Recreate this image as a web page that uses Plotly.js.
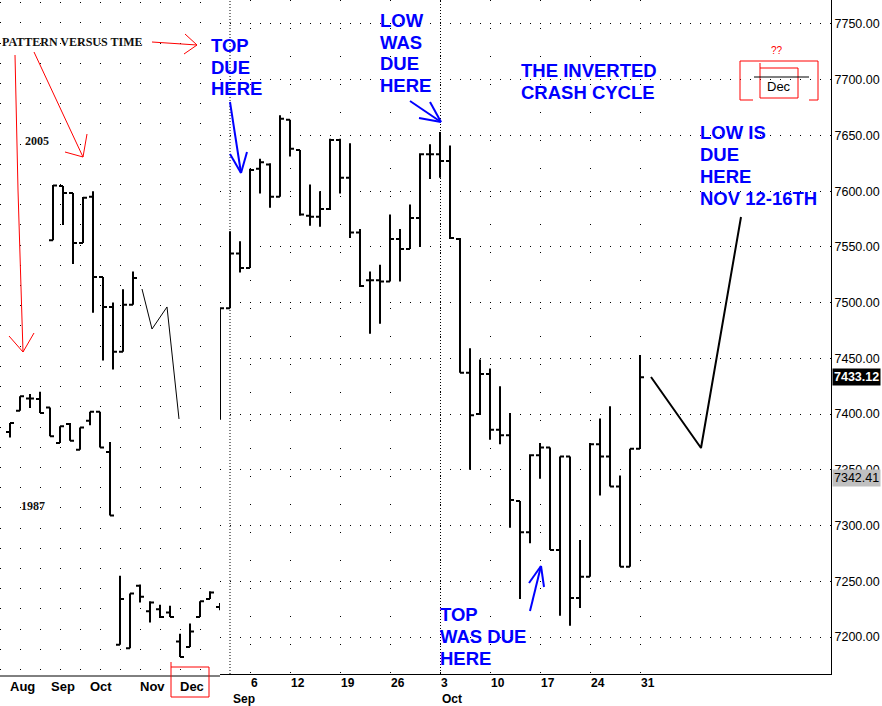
<!DOCTYPE html>
<html><head><meta charset="utf-8">
<script src="https://cdn.plot.ly/plotly-3.0.1.min.js"></script>
<style>html,body{margin:0;padding:0;background:#fff}#chart{width:882px;height:706px}</style>
</head><body><div id="chart"></div>
<script>
// ---------- MAIN CHART: daily bars, trading-day index (0 = Sep 4, -1 = Aug 31) ----------
const mainIdx   = [-1,0,1,2,3,4,5,6,7,8,9,10,11,12,13,14,15,16,17,18,19,20,21,22,23,24,25,26,27,28,29,30,31,32,33,34,35,36,37,38,39,40,41];
const mainOpen  = [7395,7495,7544,7531,7620,7624,7595,7664,7637,7578,7577,7584,7646,7612,7563,7520,7520,7519,7557,7548,7576,7633,7633,7627,7557,7437,7400,7436,7386,7381,7322,7294,7363,7370,7278,7362,7235,7254,7373,7362,7335,7263,7369];
const mainHigh  = [7495,7564,7555,7620,7629,7625,7668,7664,7637,7606,7600,7647,7647,7643,7566,7528,7534,7579,7566,7588,7634,7642,7653,7641,7558,7459,7449,7441,7425,7401,7322,7364,7374,7370,7362,7362,7287,7374,7396,7407,7345,7369,7453];
const mainLow   = [7395,7495,7527,7531,7598,7585,7595,7631,7578,7569,7568,7583,7598,7558,7514,7472,7481,7519,7519,7548,7550,7611,7612,7557,7437,7350,7400,7377,7373,7298,7234,7284,7342,7278,7219,7210,7226,7254,7327,7335,7263,7263,7369];
const mainClose = [7495,7544,7531,7619,7626,7595,7665,7638,7579,7577,7584,7646,7612,7563,7515,7520,7519,7557,7548,7576,7633,7633,7627,7558,7437,7399,7436,7386,7381,7323,7294,7363,7370,7278,7362,7235,7254,7373,7362,7335,7263,7369,7433];

// projected path drawn by hand on the right (index, price)
const projIdx   = [42.1, 47.1, 51.1];
const projPrice = [7433.3, 7369.6, 7576.8];

// main x-axis labels
const mainWeekIdx    = [2,6,11,16,21,26,31,36,41];
const mainWeekLabels = ['6','12','19','26','3','10','17','24','31'];
const mainMonthIdx    = [0.2, 21.1];
const mainMonthLabels = ['Sep','Oct'];
const monthLineIdx = [0, 21.05];

// price flags on the right axis
const lastPrice = 7433.12;
const refPrice  = 7342.41;

// ---------- INSET: weekly 1987 and 2005 patterns ----------
const w1987Idx   = [0,1,2,3,4,5,6,7,8,9,10,11,12,13,14,15,16,17,18,19,20,21];
const w1987Open  = [7384,7403,7414,7413.5,7406,7374,7391,7368,7394,7402,7366,7193,7190,7246,7223,7225,7222,7196,7191,7218,7234,7227];
const w1987High  = [7392,7416,7418,7420,7406,7389,7392,7388,7402,7402,7375,7255,7239,7247,7232,7229,7228,7203,7212,7232,7241,7230.5];
const w1987Low   = [7379,7403,7405.5,7401,7380,7374,7376,7368,7390,7370,7309,7193,7190,7231,7213,7217,7218,7182,7191,7218,7234,7224];
const w1987Close = [7392,7416,7414,7401,7380,7389,7376,7388,7402,7370,7309,7234,7239,7236,7231,7218,7218,7182,7205,7232,7240,7227];

const w2005Idx   = [4.3,5.3,6.3,7.3,8.3,9.3,10.3,11.3,12.3];
const w2005Open  = [7556,7604.6,7598.4,7553.5,7595,7523,7496,7456,7498];
const w2005High  = [7605.5,7604.6,7598.4,7594.8,7600,7523,7500,7512,7528];
const w2005Low   = [7556,7569.7,7534.7,7553.5,7491,7448,7440,7456,7498];
const w2005Close = [7605,7598.4,7553.5,7594,7523,7496,7456,7498,7522];

// hand-drawn zigzag in the inset
const zigIdx   = [13.2, 14.2, 15.7, 16.9];
const zigPrice = [7512.2, 7476.3, 7496.1, 7395.6];

const insetMonthLabels = ['Aug','Sep','Oct','Nov','Dec'];
const insetMonthPos    = [1.2, 5.3, 9.1, 14.2, 18.2];

// ---------- layout helpers ----------
const W = 831, H = 674;
const PX = x => x / W, PY = y => 1 - y / H;
const yRange = [7166.8, 7771.5];
const SANS = 'Liberation Sans, Arial, sans-serif';
const SERIF = 'Liberation Serif, Times New Roman, serif';

const ohlcStyle = {
  type: 'ohlc', tickwidth: 0.4, hoverinfo: 'skip', showlegend: false,
  increasing: {line: {color: '#000', width: 2}},
  decreasing: {line: {color: '#000', width: 2}}
};

const traces = [
  Object.assign({}, ohlcStyle, {x: mainIdx, open: mainOpen, high: mainHigh, low: mainLow, close: mainClose, xaxis: 'x', yaxis: 'y'}),
  {type: 'scatter', mode: 'lines', x: projIdx, y: projPrice, xaxis: 'x', yaxis: 'y', line: {color: '#000', width: 2}, hoverinfo: 'skip', showlegend: false},
  Object.assign({}, ohlcStyle, {x: w1987Idx, open: w1987Open, high: w1987High, low: w1987Low, close: w1987Close, xaxis: 'x2', yaxis: 'y2'}),
  Object.assign({}, ohlcStyle, {x: w2005Idx, open: w2005Open, high: w2005High, low: w2005Low, close: w2005Close, xaxis: 'x2', yaxis: 'y2'}),
  {type: 'scatter', mode: 'lines', x: zigIdx, y: zigPrice, xaxis: 'x2', yaxis: 'y2', line: {color: '#000', width: 1}, hoverinfo: 'skip', showlegend: false}
];

const seg = (x0, y0, x1, y1, color, width) => ({type: 'line', xref: 'paper', yref: 'paper',
  x0: PX(x0), y0: PY(y0), x1: PX(x1), y1: PY(y1), line: {color: color, width: width}});
const RED = '#ff0000', BLUE = '#0000ff';

const shapes = [];
// month separator dotted lines
monthLineIdx.forEach(v => shapes.push({type: 'line', xref: 'x', yref: 'paper', x0: v, x1: v, y0: 0, y1: 1,
  line: {color: '#000', width: 1, dash: '1px,2px'}, layer: 'below'}));
// inset bottom axis line
shapes.push(seg(0, 676, 220, 676, '#000', 1));
// red arrows
[[152,42,197,45],[185,34,197,45],[184,54,197,45],
 [34,52,83,157],[65,152,83,157],[87,134,83,157],
 [15,55,18,190],[18,190,23,352],[9,336,23,352],[34,333,23,352]].forEach(s => shapes.push(seg(s[0],s[1],s[2],s[3],RED,1)));
// red box around inset "Dec"
shapes.push(seg(171,662,171,697,RED,1), seg(171,667,209,667,RED,1), seg(209,667,209,697,RED,1), seg(171,697,209,697,RED,1));
// blue arrows
[[230,102,241,173],[230,154,241,173],[247,152,241,173],
 [410,101,441,122],[430,102,441,122],[419,118,441,122],
 [530,611,541,566],[529,583,541,566],[544,587,541,566]].forEach(s => shapes.push(seg(s[0],s[1],s[2],s[3],BLUE,2)));
// top-right red legend box
[[753,100,740,100],[740,100,740,61],[740,61,818,61],[818,61,818,100],[818,100,809,100],
 [760,63,760,98],[760,68,798,68],[798,68,798,98],[760,98,798,98]].forEach(s => shapes.push(seg(s[0],s[1],s[2],s[3],RED,1)));
shapes.push(seg(754,77,809,77,'#000',1));

const ann = [];
const txt = (text, x, y, size, color, family, xanchor, extra) => ann.push(Object.assign({
  text: text, xref: 'paper', yref: 'paper', x: PX(x), y: PY(y), xanchor: xanchor || 'left', yanchor: 'middle',
  showarrow: false, font: {family: family || SANS, size: size, color: color || '#000'}, borderpad: 0}, extra || {}));

// blue comments
const blueBlocks = [
  {x: 210, y0: 45, lines: ['TOP','DUE','HERE']},
  {x: 379, y0: 20, lines: ['LOW','WAS','DUE','HERE']},
  {x: 520, y0: 70, lines: ['THE INVERTED','CRASH CYCLE']},
  {x: 699, y0: 132, lines: ['LOW IS','DUE','HERE','NOV 12-16TH']},
  {x: 439, y0: 614, lines: ['TOP','WAS DUE','HERE']}
];
blueBlocks.forEach(b => b.lines.forEach((l, i) => txt('<b>' + l + '</b>', b.x, b.y0 + i * 22, 18.5, BLUE)));

txt('<b>PATTERN VERSUS TIME</b>', 1, 42, 12, '#111', SERIF);
txt('<b>2005</b>', 24, 141, 12, '#111', SERIF);
txt('<b>1987</b>', 20, 506, 12, '#111', SERIF);
txt('??', 777, 50, 10, RED, SANS, 'center');
txt('Dec', 779, 87, 13, '#000', SANS, 'center');

// main x labels
mainWeekLabels.forEach((l, i) => ann.push({text: '<b>' + l + '</b>', xref: 'x', yref: 'paper', x: mainWeekIdx[i], y: PY(683),
  xanchor: 'left', yanchor: 'middle', showarrow: false, borderpad: 0, font: {family: SANS, size: 12, color: '#000'}}));
mainMonthLabels.forEach((l, i) => ann.push({text: '<b>' + l + '</b>', xref: 'x', yref: 'paper', x: mainMonthIdx[i], y: PY(699),
  xanchor: 'left', yanchor: 'middle', showarrow: false, borderpad: 0, font: {family: SANS, size: 12, color: '#000'}}));
// inset x labels
insetMonthLabels.forEach((l, i) => ann.push({text: '<b>' + l + '</b>', xref: 'x2', yref: 'paper', x: insetMonthPos[i], y: PY(686),
  xanchor: 'center', yanchor: 'middle', showarrow: false, borderpad: 0, font: {family: SANS, size: 13, color: '#000'}}));

// price flags
ann.push({text: '<b>' + lastPrice.toFixed(2) + '</b>', xref: 'paper', yref: 'y', x: PX(832), y: lastPrice, xanchor: 'left', yanchor: 'middle',
  showarrow: false, bgcolor: '#000', borderpad: 1, font: {family: SANS, size: 12.5, color: '#fff'}});
ann.push({text: refPrice.toFixed(2), xref: 'paper', yref: 'y', x: PX(832), y: refPrice, xanchor: 'left', yanchor: 'middle',
  showarrow: false, bgcolor: '#c0c0c0', borderpad: 1, font: {family: SANS, size: 12.5, color: '#000'}});

const layout = {
  width: 882, height: 706,
  margin: {l: 0, r: 51, t: 0, b: 32, pad: 0},
  paper_bgcolor: '#fff', plot_bgcolor: '#fff',
  showlegend: false, hovermode: false, dragmode: false,
  xaxis: {domain: [220 / W, 1], range: [-1, 60.1], anchor: 'y', tickmode: 'array', tickvals: mainWeekIdx,
    showticklabels: false, ticks: '', showgrid: true, gridcolor: '#000', gridwidth: 1, griddash: '1px,27px',
    zeroline: false, showline: true, linecolor: '#000', linewidth: 1, rangeslider: {visible: false}, fixedrange: true},
  yaxis: {domain: [0, 1], range: yRange, side: 'right', anchor: 'x', tick0: 7200, dtick: 50, tickformat: '.2f',
    ticks: '', showgrid: true, gridcolor: '#000', gridwidth: 1, griddash: '1px,9px', zeroline: false,
    showline: true, linecolor: '#000', linewidth: 1, tickfont: {family: SANS, size: 12.5, color: '#000'}, fixedrange: true},
  xaxis2: {domain: [0, 220 / W], range: [-1, 21], anchor: 'y2', showticklabels: false, ticks: '', showgrid: false,
    zeroline: false, showline: false, rangeslider: {visible: false}, fixedrange: true},
  yaxis2: {domain: [0, 1], range: yRange, anchor: 'x2', tick0: 7750.9, dtick: 18.125, showticklabels: false, ticks: '',
    showgrid: true, gridcolor: '#000', gridwidth: 1, griddash: '1px,19px', zeroline: false, showline: false, fixedrange: true},
  shapes: shapes,
  annotations: ann
};

Plotly.newPlot('chart', traces, layout, {staticPlot: true, displayModeBar: false});
</script></body></html>
